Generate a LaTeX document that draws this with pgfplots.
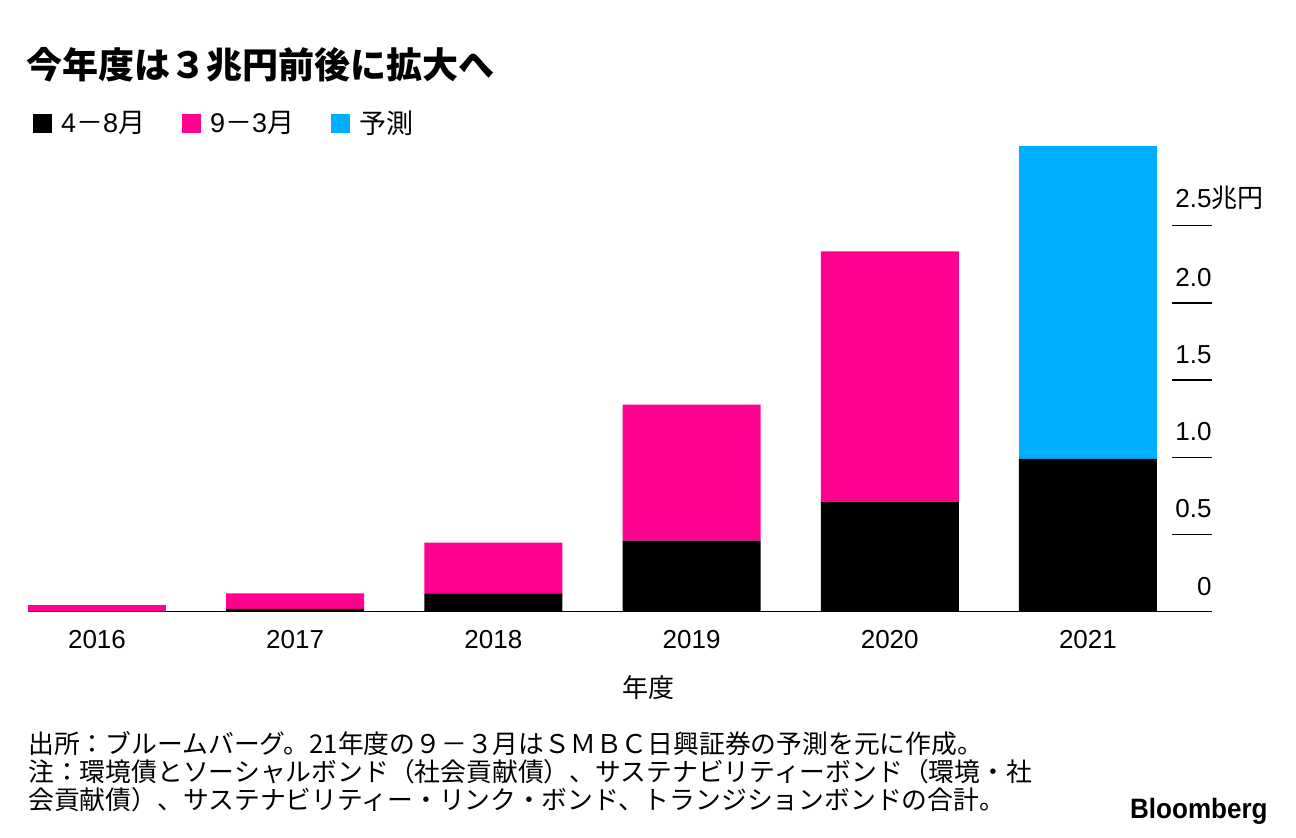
\documentclass[border=0pt]{standalone}
\usepackage{fontspec}
\usepackage{pgfplots}
\pgfplotsset{compat=1.18}
\setmainfont{Noto Sans CJK JP}
\newfontfamily\lat{Liberation Sans}
\definecolor{bbpink}{HTML}{FF0090}
\definecolor{bbblue}{HTML}{00AEFF}

\begin{document}
\begin{tikzpicture}
  % canvas: 1 px of the reference = 0.5pt
  \path (0,0) rectangle (648pt,419pt);

  \node[anchor=west, inner sep=0pt, font=\fontsize{18pt}{20pt}\selectfont\bfseries]
    at (13pt,386.5pt) {今年度は３兆円前後に拡大へ};

  \begin{axis}[
      at={(14pt,113.15pt)}, anchor=south west,
      scale only axis,
      width=592pt, height=232.85pt,
      xmin=-0.348, xmax=5.626,
      ymin=0, ymax=3.016,
      ybar stacked, bar width=69pt,
      axis x line*=bottom,
      axis y line*=right,
      x axis line style={black, line width=0.75pt, -},
      y axis line style={draw=none},
      xtick={0,1,2,3,4,5},
      xticklabels={2016,2017,2018,2019,2020,2021},
      xtick style={draw=none},
      xticklabel style={inner sep=0pt, anchor=north, yshift=-9pt,
        font=\lat\fontsize{13pt}{15pt}\selectfont},
      ytick={0,0.5,1,1.5,2,2.5},
      yticklabels={0,0.5,1.0,1.5,2.0,{2.5\rlap{\rmfamily 兆円}}},
      ytick style={black, line width=0.75pt},
      major tick length=20pt,
      tick align=inside,
      yticklabel style={inner sep=0pt, anchor=south east, yshift=8pt,
        font=\lat\fontsize{13pt}{15pt}\selectfont},
      legend style={at={(axis description cs:0.004,1.049)}, anchor=west,
        draw=none, inner sep=0pt, fill=none,
        font=\fontsize{13.5pt}{15pt}\selectfont,
        nodes={inner xsep=4.5pt},
        /tikz/every even column/.append style={column sep=14pt}},
      legend columns=3,
      legend image code/.code={\fill (0pt,-4.75pt) rectangle (9.5pt,4.75pt);},
      clip=false,
    ]
    \addplot[fill=black, draw=none] coordinates {
      (0,0.000) (1,0.019) (2,0.119) (3,0.460) (4,0.712) (5,0.989)};
    \addplot[fill=bbpink, draw=none] coordinates {
      (0,0.043) (1,0.100) (2,0.328) (3,0.881) (4,1.622) (5,0)};
    \addplot[fill=bbblue, draw=none] coordinates {
      (0,0) (1,0) (2,0) (3,0) (4,0) (5,2.027)};
    \legend{{\lat 4}－{\lat 8}月,{\lat 9}－{\lat 3}月,予測}
  \end{axis}

  \node[inner sep=0pt, font=\fontsize{13pt}{15pt}\selectfont] at (324pt,75pt) {年度};

  \begin{scope}[every node/.style={anchor=west, inner sep=0pt,
      font=\fontsize{12.9pt}{14pt}\selectfont}]
    \node at (14pt,47pt) {出所：ブルームバーグ。21年度の９－３月はＳＭＢＣ日興証券の予測を元に作成。};
    \node at (14pt,33pt) {注：環境債とソーシャルボンド（社会貢献債）、サステナビリティーボンド（環境・社};
    \node at (14pt,19pt) {会貢献債）、サステナビリティー・リンク・ボンド、トランジションボンドの合計。};
  \end{scope}

  \node[anchor=east, inner sep=0pt] at (634pt,13.5pt)
    {\scalebox{0.93}[1]{\lat\bfseries\fontsize{14pt}{16pt}\selectfont Bloomberg}};
\end{tikzpicture}
\end{document}
